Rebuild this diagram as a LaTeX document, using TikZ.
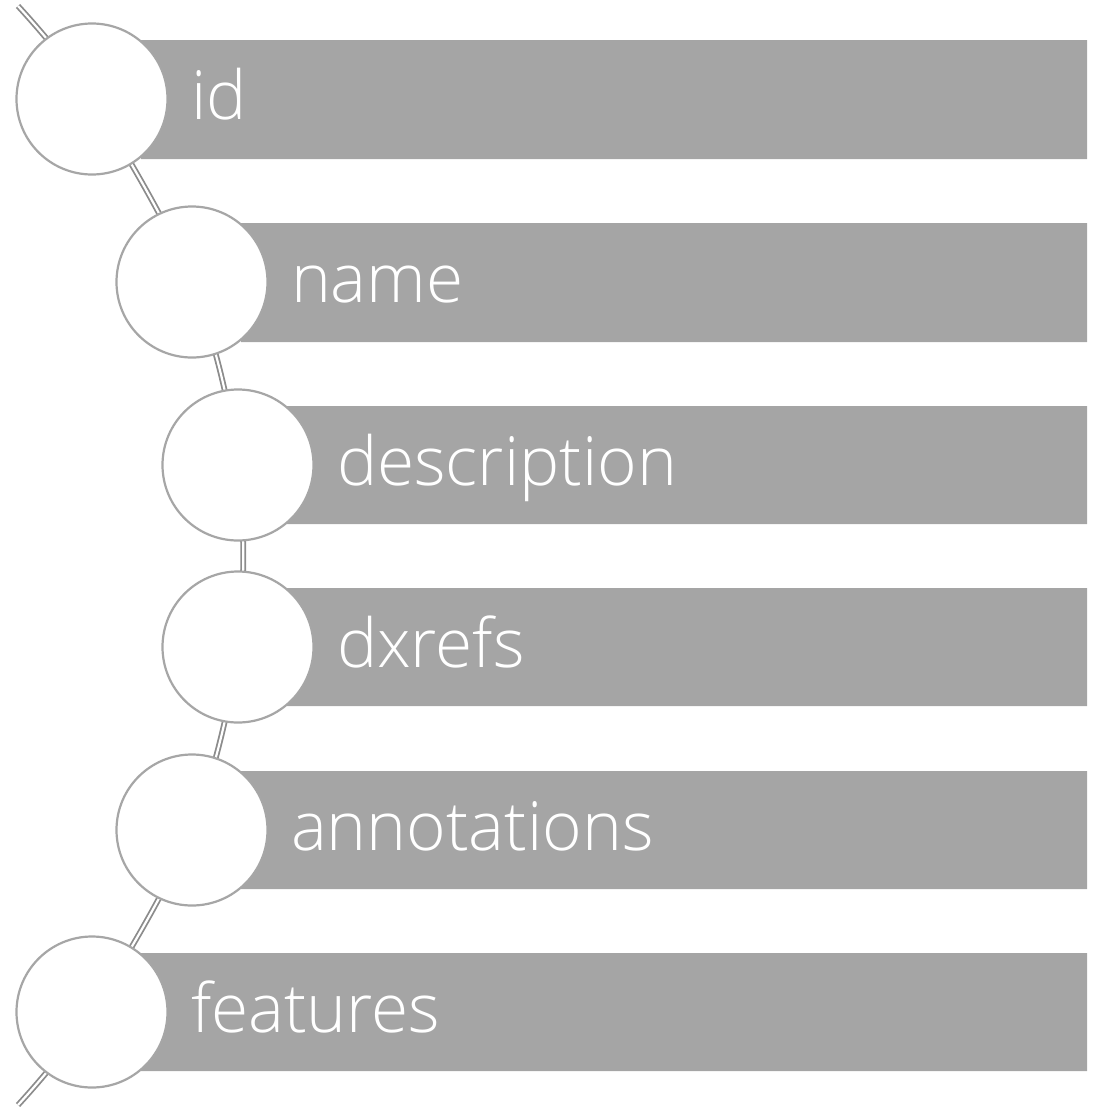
\documentclass[tikz,border=0pt]{standalone}
\usepackage{fontspec}
\setsansfont{Open Sans Light}
\usetikzlibrary{positioning}
\definecolor{barfill}{HTML}{A5A5A5}
\definecolor{ringline}{HTML}{A6A6A6}
\definecolor{linkline}{HTML}{8C8C8C}

\begin{document}
\begin{tikzpicture}[x=0.5pt,y=-0.5pt]
	\tikzset{
		ball/.style={circle,draw=ringline,fill=white,line width=1.1pt,minimum size=75.5pt,inner sep=0pt},
		tag/.style={text=white,font=\sffamily\fontsize{33.8}{40}\selectfont,inner sep=0pt,text height=27pt,text depth=7pt,right=11pt of #1},
		link/.style={draw=linkline,line width=0.9pt,double=white,double distance=1.1pt}
	}
	\useasboundingbox (0,0) rectangle (1101,1108);
	\coordinate (top) at (18,6);
	\coordinate (bot) at (18,1105);
	\path
	(92,99) coordinate (p1)
	(192,282) coordinate (p2)
	(238,465) coordinate (p3)
	(238,647) coordinate (p4)
	(192,830) coordinate (p5)
	(92,1012) coordinate (p6)
	;
	% spine behind everything
	\draw[link] plot[smooth,tension=0.55] coordinates {(top) (p1) (p2) (p3) (p4) (p5) (p6) (bot)};
	% grey bands
	\fill[barfill]
	(141,40) rectangle (1087,159)
	(241,223) rectangle (1087,342)
	(287,406) rectangle (1087,524)
	(287,588) rectangle (1087,706)
	(241,771) rectangle (1087,889)
	(141,953) rectangle (1087,1071)
	;
	\path
	(p1) node[ball](c1){}
	(p2) node[ball](c2){}
	(p3) node[ball](c3){}
	(p4) node[ball](c4){}
	(p5) node[ball](c5){}
	(p6) node[ball](c6){}
	;
	\node[tag=c1](t1){id};
	\node[tag=c2](t2){name};
	\node[tag=c3](t3){description};
	\node[tag=c4](t4){dxrefs};
	\node[tag=c5](t5){annotations};
	\node[tag=c6](t6){features};
\end{tikzpicture}
\end{document}
